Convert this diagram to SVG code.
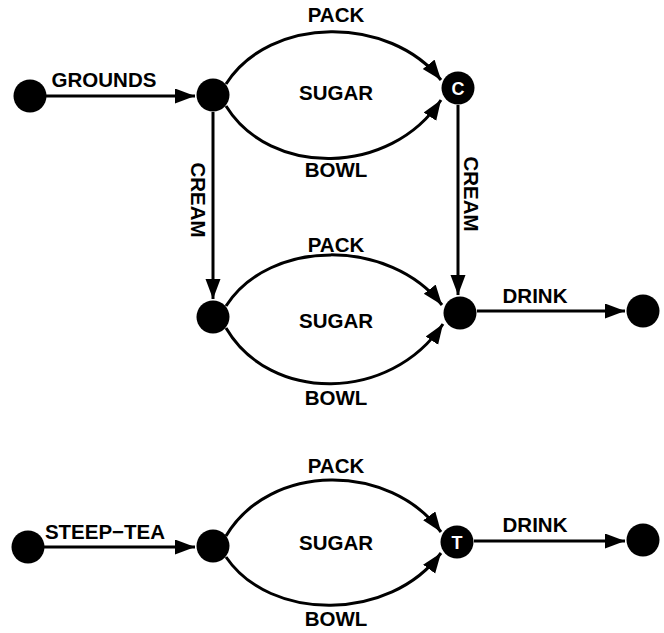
<svg xmlns="http://www.w3.org/2000/svg" width="664" height="633" viewBox="0 0 664 633">
<style>
  text { font-family: "Liberation Sans", Arial, sans-serif; font-weight: bold; font-size: 20.5px; fill: #000; }
  .lbl { text-anchor: middle; }
  .in { fill: #fff; font-size: 18px; text-anchor: middle; }
  .node { fill: #000; }
  .edge { fill: none; stroke: #000; stroke-width: 3; }
</style>
<defs>
  <marker id="arr" markerUnits="userSpaceOnUse" markerWidth="22" markerHeight="16" refX="20" refY="7.5" orient="auto">
    <path d="M0,0 L20,7.5 L0,15 Z" fill="#000"/>
  </marker>
</defs>
<rect width="664" height="633" fill="#fff"/>
<g id="connectors">
  <path class="edge" marker-end="url(#arr)" d="M44,96 L195,96"/>
  <path class="edge" marker-end="url(#arr)" d="M226,84 C270,15 390,15 441,80"/>
  <path class="edge" marker-end="url(#arr)" d="M226,106 C270,177 390,177 441,100"/>
  <path class="edge" marker-end="url(#arr)" d="M213,112 L213,299"/>
  <path class="edge" marker-end="url(#arr)" d="M458,105 L458,295"/>
  <path class="edge" marker-end="url(#arr)" d="M226,306 C270,238 390,238 442,305"/>
  <path class="edge" marker-end="url(#arr)" d="M226,328 C270,403 390,403 443,324"/>
  <path class="edge" marker-end="url(#arr)" d="M477,311 L625,311"/>
  <path class="edge" marker-end="url(#arr)" d="M44,547 L195,547"/>
  <path class="edge" marker-end="url(#arr)" d="M226,536 C270,462 390,462 441,532"/>
  <path class="edge" marker-end="url(#arr)" d="M226,557 C270,622 390,622 441,553"/>
  <path class="edge" marker-end="url(#arr)" d="M474,541 L625,541"/>
  <text class="lbl" x="104" y="87">GROUNDS</text>
  <text class="lbl" x="336" y="22">PACK</text>
  <text class="lbl" x="336" y="100">SUGAR</text>
  <text class="lbl" x="336" y="177">BOWL</text>
  <text class="lbl" transform="translate(191,200) rotate(90)">CREAM</text>
  <text class="lbl" transform="translate(464,194) rotate(90)">CREAM</text>
  <text class="lbl" x="336" y="252">PACK</text>
  <text class="lbl" x="336" y="328">SUGAR</text>
  <text class="lbl" x="336" y="405">BOWL</text>
  <text class="lbl" x="535" y="303">DRINK</text>
  <text class="lbl" x="105" y="539">STEEP−TEA</text>
  <text class="lbl" x="336" y="473">PACK</text>
  <text class="lbl" x="336" y="550">SUGAR</text>
  <text class="lbl" x="336" y="626">BOWL</text>
  <text class="lbl" x="535" y="532">DRINK</text>
</g>
<g id="n1"><circle class="node" cx="30" cy="96" r="16.5"/></g>
<g id="n2"><circle class="node" cx="213" cy="95" r="16.5"/></g>
<g id="n3"><circle class="node" cx="458" cy="88" r="16.5"/><text class="in" x="458" y="94.5">C</text></g>
<g id="n4"><circle class="node" cx="213" cy="317" r="16.5"/></g>
<g id="n5"><circle class="node" cx="460" cy="313" r="16.5"/></g>
<g id="n6"><circle class="node" cx="643" cy="311" r="16.5"/></g>
<g id="n7"><circle class="node" cx="28" cy="547" r="16.5"/></g>
<g id="n8"><circle class="node" cx="213" cy="546" r="16.5"/></g>
<g id="n9"><circle class="node" cx="457" cy="542" r="16.5"/><text class="in" x="457" y="548.5">T</text></g>
<g id="n10"><circle class="node" cx="643" cy="540" r="16.5"/></g>
</svg>
